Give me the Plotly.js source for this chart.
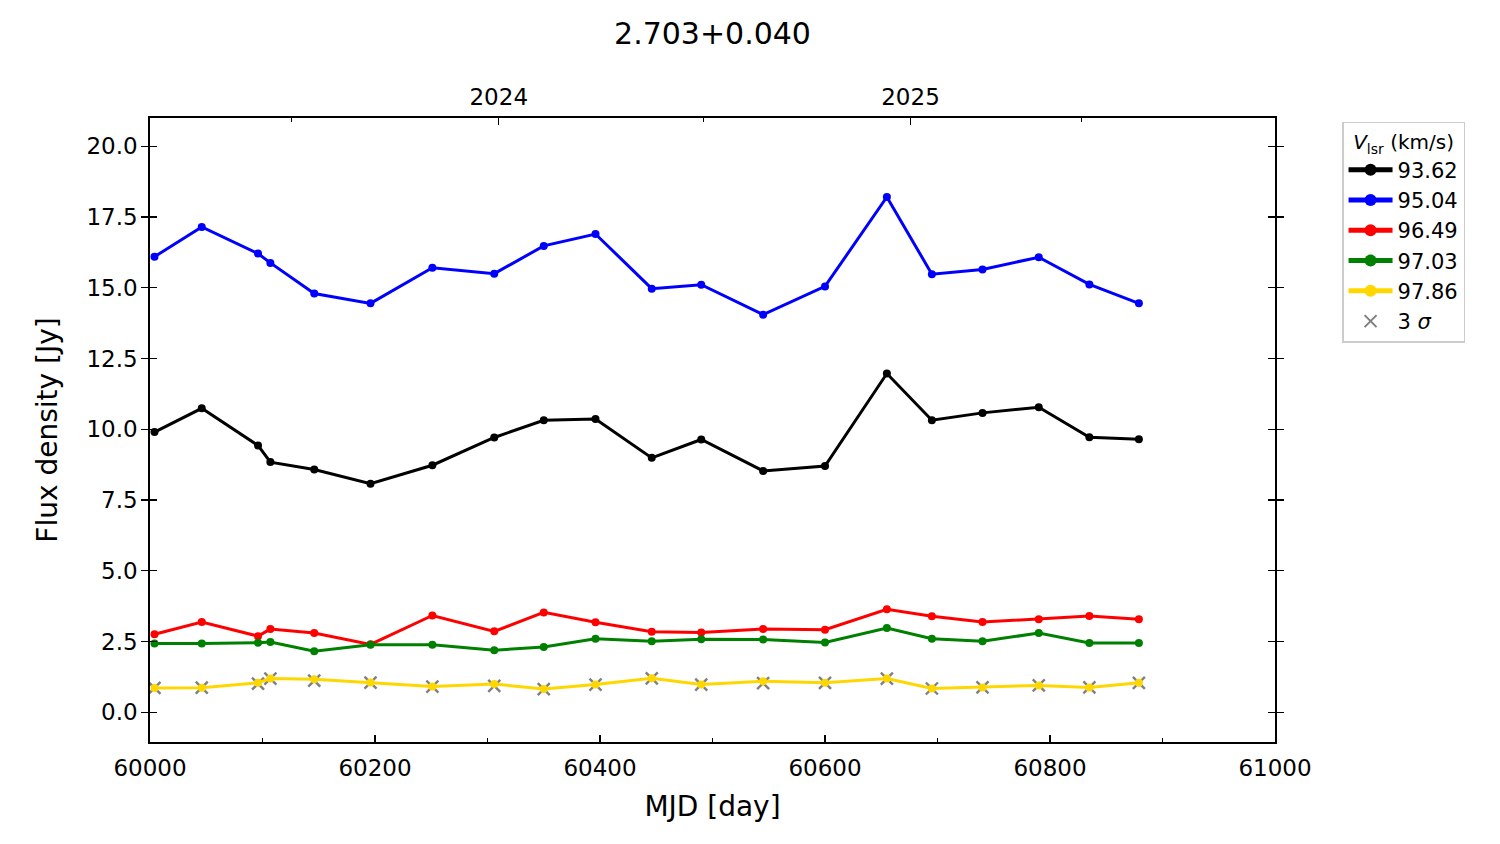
<!DOCTYPE html>
<html>
<head>
<meta charset="utf-8">
<script src="https://cdn.plot.ly/plotly-3.0.1.min.js"></script>
<style>body { margin: 0; background: #fff; }</style>
</head>
<body>
<div id="plot" style="width:1500px;height:844px"></div>
<script>
// epochs (MJD) and flux densities [Jy] per velocity channel
var mjd = [60004, 60046, 60096, 60107, 60146, 60196, 60251, 60306, 60350, 60396,
           60446, 60490, 60545, 60600, 60655, 60695, 60740, 60790, 60835, 60879];

var v9362 = [9.90, 10.74, 9.43, 8.84, 8.58, 8.08, 8.73, 9.71, 10.32, 10.36,
             8.99, 9.64, 8.53, 8.70, 11.97, 10.32, 10.58, 10.78, 9.72, 9.65];
var v9504 = [16.10, 17.15, 16.21, 15.88, 14.80, 14.45, 15.71, 15.50, 16.48, 16.90,
             14.97, 15.11, 14.05, 15.05, 18.21, 15.48, 15.65, 16.08, 15.12, 14.45];
var v9649 = [2.76, 3.19, 2.69, 2.94, 2.80, 2.40, 3.42, 2.86, 3.53, 3.18,
             2.85, 2.82, 2.94, 2.92, 3.64, 3.39, 3.19, 3.29, 3.40, 3.29];
var v9703 = [2.43, 2.43, 2.46, 2.48, 2.16, 2.39, 2.39, 2.19, 2.31, 2.60,
             2.51, 2.58, 2.57, 2.47, 2.98, 2.60, 2.51, 2.80, 2.45, 2.45];
var v9786 = [0.86, 0.87, 1.04, 1.19, 1.17, 1.05, 0.91, 1.00, 0.82, 0.98,
             1.20, 0.98, 1.10, 1.04, 1.19, 0.84, 0.88, 0.95, 0.88, 1.04];
// 3 sigma level at each epoch
var sigma3 = [0.86, 0.87, 1.01, 1.19, 1.12, 1.05, 0.91, 0.93, 0.82, 0.98,
              1.20, 0.98, 1.03, 1.04, 1.19, 0.84, 0.88, 0.95, 0.88, 1.04];

var seriesNames  = ['93.62', '95.04', '96.49', '97.03', '97.86'];
var seriesValues = [v9362, v9504, v9649, v9703, v9786];
var seriesColors = ['#000000', '#0000ff', '#ff0000', '#008000', '#ffd700'];

// top axis: calendar years
var yearTicks  = [60310, 60676];
var yearLabels = ['2024', '2025'];
var halfYearTicks = [60126, 60492, 60828];

var mjdTicks = [60000, 60200, 60400, 60600, 60800, 61000];
var mjdMinor = [60100, 60300, 60500, 60700, 60900];
var yTicks = [0, 2.5, 5, 7.5, 10, 12.5, 15, 17.5, 20];

var font = 'DejaVu Sans, sans-serif';

var data = [];

// grey 3 sigma crosses sit underneath the points
data.push({
    x: mjd, y: sigma3,
    name: '3 <i>σ</i>',
    mode: 'markers',
    type: 'scatter',
    legendrank: 6,
    marker: { symbol: 'x-thin', size: 12, color: '#808080', line: { width: 2.4, color: '#808080' } },
    hoverinfo: 'skip'
});

seriesNames.forEach(function (name, i) {
    data.push({
        x: mjd, y: seriesValues[i],
        name: name,
        mode: 'lines+markers',
        type: 'scatter',
        legendrank: i + 1,
        line: { color: seriesColors[i], width: 3 },
        marker: { color: seriesColors[i], size: 8 }
    });
});

// invisible trace so the top (year) axis is drawn
data.push({
    x: mjd, y: sigma3,
    xaxis: 'x2',
    mode: 'markers',
    type: 'scatter',
    marker: { opacity: 0 },
    showlegend: false,
    hoverinfo: 'skip'
});

var layout = {
    width: 1500,
    height: 844,
    margin: { l: 150, r: 225, t: 118, b: 102 },
    paper_bgcolor: '#fff',
    plot_bgcolor: '#fff',
    font: { family: font, color: '#000', size: 23 },
    title: {
        text: '2.703+0.040',
        font: { family: font, size: 30, color: '#000' },
        x: 0.5, xref: 'paper', xanchor: 'center',
        y: 1 - 33 / 844, yanchor: 'middle'
    },
    showlegend: true,
    legend: {
        x: 1.0596, y: 0.9936, xanchor: 'left', yanchor: 'top',
        bordercolor: '#cccccc', borderwidth: 1.5,
        bgcolor: '#fff',
        itemsizing: 'constant',
        itemwidth: 44,
        font: { family: font, size: 21, color: '#000' },
        title: { text: '<i>V</i><sub>lsr</sub> (km/s)', side: 'top center',
                 font: { family: font, size: 20, color: '#000' } }
    },
    xaxis: {
        range: [60000, 61000],
        tickvals: mjdTicks, tickformat: 'd',
        ticks: 'inside', ticklen: 7, tickwidth: 1.3, tickcolor: '#000',
        minor: { tickvals: mjdMinor, ticks: 'inside',
                 ticklen: 4, tickwidth: 1, tickcolor: '#000' },
        showline: true, linecolor: '#000', linewidth: 1.8, mirror: true,
        showgrid: false, zeroline: false,
        ticklabelstandoff: 5,
        tickfont: { family: font, size: 23 },
        title: { text: 'MJD [day]', font: { family: font, size: 28 }, standoff: 16 }
    },
    xaxis2: {
        overlaying: 'x', side: 'top',
        range: [60000, 61000],
        tickvals: yearTicks, ticktext: yearLabels,
        ticks: 'inside', ticklen: 7, tickwidth: 1.3, tickcolor: '#000',
        minor: { tickvals: halfYearTicks, ticks: 'inside',
                 ticklen: 4, tickwidth: 1, tickcolor: '#000' },
        showline: false, showgrid: false, zeroline: false,
        ticklabelstandoff: 7,
        tickfont: { family: font, size: 23 }
    },
    yaxis: {
        range: [-1.05, 21],
        tickvals: yTicks, tickformat: '.1f',
        ticks: 'inside', ticklen: 7, tickwidth: 1.3, tickcolor: '#000',
        showline: true, linecolor: '#000', linewidth: 1.8, mirror: 'allticks',
        showgrid: false, zeroline: false,
        ticklabelstandoff: 6,
        tickfont: { family: font, size: 23 },
        title: { text: 'Flux density [Jy]', font: { family: font, size: 28 }, standoff: 20 }
    }
};

Plotly.newPlot('plot', data, layout, { displayModeBar: false, staticPlot: true });
</script>
</body>
</html>
